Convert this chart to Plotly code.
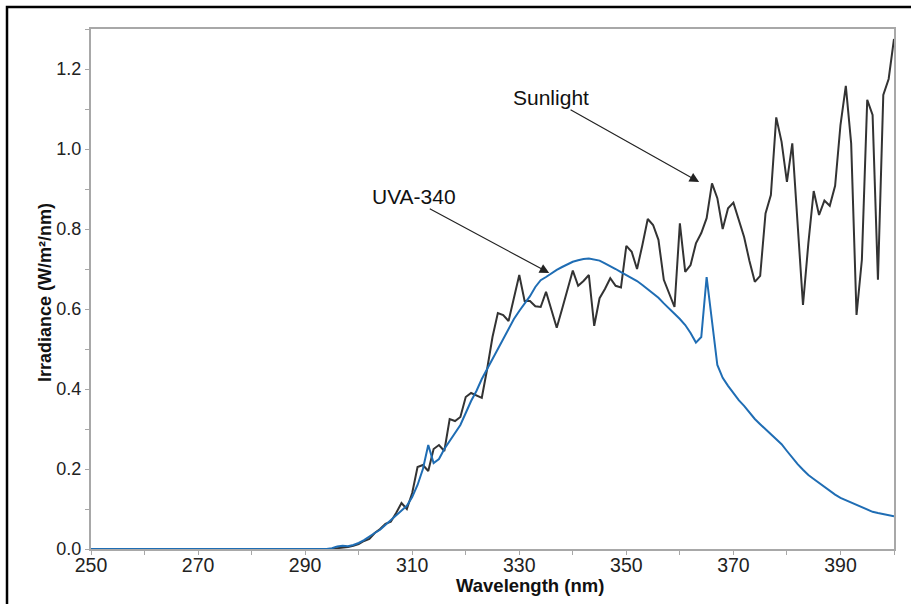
import plotly.graph_objects as go

# ---- data ----
sun_x = [250, 294, 295, 296, 297, 298, 299, 300, 301, 302, 303, 304, 305, 306, 307, 308, 309, 310,
         311, 312, 313, 314, 315, 316, 317, 318, 319, 320, 321, 322, 323, 324, 325, 326, 327, 328,
         329, 330, 331, 332, 333, 334, 335, 336, 337, 338, 339, 340, 341, 342, 343, 344, 345, 346,
         347, 348, 349, 350, 351, 352, 353, 354, 355, 356, 357, 358, 359, 360, 361, 362, 363, 364,
         365, 366, 367, 368, 369, 370, 371, 372, 373, 374, 375, 376, 377, 378, 379, 380, 381, 382,
         383, 384, 385, 386, 387, 388, 389, 390, 391, 392, 393, 394, 395, 396, 397, 398, 399, 400]
sun_y = [0.0, 0.0, 0.0, 0.002, 0.003, 0.005, 0.008, 0.012, 0.02, 0.025, 0.04, 0.05, 0.063, 0.068,
         0.09, 0.115, 0.10, 0.14, 0.205, 0.21, 0.195, 0.25, 0.26, 0.245, 0.325, 0.32, 0.33, 0.38,
         0.39, 0.385, 0.378, 0.45, 0.53, 0.59, 0.585, 0.57, 0.63, 0.685, 0.62, 0.62, 0.607, 0.605,
         0.643, 0.6, 0.553, 0.6, 0.65, 0.696, 0.658, 0.67, 0.685, 0.558, 0.627, 0.65, 0.677, 0.658,
         0.654, 0.758, 0.743, 0.70, 0.76, 0.825, 0.81, 0.773, 0.673, 0.64, 0.605, 0.814, 0.693,
         0.71, 0.764, 0.79, 0.827, 0.914, 0.877, 0.80, 0.852, 0.866, 0.82, 0.78, 0.72, 0.668, 0.683,
         0.839, 0.885, 1.079, 1.018, 0.918, 1.014, 0.81, 0.61, 0.764, 0.895, 0.835, 0.871, 0.858,
         0.908, 1.06, 1.158, 1.014, 0.585, 0.723, 1.123, 1.085, 0.673, 1.135, 1.175, 1.275]

uva_x = [250, 294, 295, 296, 297, 298, 299, 300, 301, 302, 303, 304, 305, 306, 307, 308, 309, 310,
         311, 312, 313, 314, 315, 316, 317, 318, 319, 320, 321, 322, 323, 324, 325, 326, 327, 328,
         329, 330, 331, 332, 333, 334, 335, 336, 337, 338, 339, 340, 341, 342, 343, 344, 345, 346,
         347, 348, 349, 350, 351, 352, 353, 354, 355, 356, 357, 358, 359, 360, 361, 362, 363, 364,
         365, 367, 368, 369, 370, 371, 372, 373, 374, 375, 376, 377, 378, 379, 380, 381, 382,
         383, 384, 385, 386, 387, 388, 389, 390, 391, 392, 393, 394, 395, 396, 397, 398, 399, 400]
uva_y = [0.0, 0.0, 0.002, 0.006, 0.008, 0.007, 0.01, 0.015, 0.022, 0.032, 0.04, 0.048, 0.06, 0.07,
         0.082, 0.095, 0.108, 0.13, 0.16, 0.2, 0.26, 0.215, 0.225, 0.25, 0.27, 0.29, 0.31, 0.34,
         0.37, 0.395, 0.425, 0.45, 0.475, 0.50, 0.525, 0.55, 0.575, 0.595, 0.613, 0.632, 0.655,
         0.672, 0.68, 0.69, 0.698, 0.705, 0.712, 0.718, 0.722, 0.725, 0.726, 0.724, 0.721, 0.714,
         0.708, 0.70, 0.692, 0.685, 0.678, 0.67, 0.66, 0.65, 0.64, 0.628, 0.614, 0.60, 0.588, 0.575,
         0.56, 0.54, 0.516, 0.53, 0.68, 0.46, 0.428, 0.408, 0.39, 0.372, 0.358, 0.342, 0.325, 0.312,
         0.30, 0.288, 0.275, 0.262, 0.245, 0.228, 0.212, 0.198, 0.185, 0.175, 0.165, 0.155, 0.145,
         0.136, 0.128, 0.122, 0.115, 0.11, 0.104, 0.098, 0.093, 0.09, 0.087, 0.084, 0.082]

x_ticks = [250, 270, 290, 310, 330, 350, 370, 390]
y_ticks = [0.0, 0.2, 0.4, 0.6, 0.8, 1.0, 1.2]
y_tick_labels = ["0.0", "0.2", "0.4", "0.6", "0.8", "1.0", "1.2"]

FONT = "Liberation Sans, Arial, sans-serif"
AXIS_GRAY = "#a8a8a8"

fig = go.Figure()
fig.add_trace(go.Scatter(x=sun_x, y=sun_y, mode="lines", name="Sunlight",
                         line=dict(color="#333333", width=2)))
fig.add_trace(go.Scatter(x=uva_x, y=uva_y, mode="lines", name="UVA-340",
                         line=dict(color="#1f6db4", width=2)))

axis_common = dict(showline=True, linecolor=AXIS_GRAY, linewidth=2, mirror=True,
                   showgrid=False, zeroline=False, ticks="outside", ticklen=4,
                   tickcolor=AXIS_GRAY, tickwidth=1)

fig.update_layout(
    width=911, height=604,
    margin=dict(l=91, r=17, t=29, b=55),
    paper_bgcolor="white", plot_bgcolor="white",
    showlegend=False,
    xaxis=dict(range=[250, 400], tickvals=x_ticks, ticktext=[str(v) for v in x_ticks],
               minor=dict(dtick=10, tick0=250, ticks="outside", ticklen=4, tickcolor=AXIS_GRAY),
               tickfont=dict(family=FONT, size=19.5, color="#222222"),
               ticklabelstandoff=-6,
               **axis_common),
    yaxis=dict(range=[0, 1.3], tickvals=y_ticks, ticktext=y_tick_labels,
               minor=dict(dtick=0.1, tick0=0, ticks="outside", ticklen=4, tickcolor=AXIS_GRAY),
               tickfont=dict(family=FONT, size=18, color="#222222"),
               **axis_common),
)

# axis titles
fig.add_annotation(text="<b>Wavelength (nm)</b>", xref="paper", yref="paper",
                   x=0.547, y=-0.07, xanchor="center", yanchor="middle", showarrow=False,
                   font=dict(family=FONT, size=18.5, color="#111111"))
fig.add_annotation(text="<b>Irradiance (W/m²/nm)</b>", xref="paper", yref="paper",
                   x=-0.0573, y=0.494, xanchor="center", yanchor="middle", showarrow=False,
                   textangle=-90, font=dict(family=FONT, size=18, color="#111111"))

# callout labels
fig.add_annotation(text="Sunlight", x=335.9, y=1.13, xref="x", yref="y", showarrow=False,
                   font=dict(family=FONT, size=21, color="#111111"))
fig.add_annotation(text="UVA-340", x=310.3, y=0.8825, xref="x", yref="y", showarrow=False,
                   font=dict(family=FONT, size=21, color="#111111"))
# arrows
fig.add_annotation(text="", x=363.6, y=0.9175, ax=339.3, ay=1.10, xref="x", yref="y",
                   axref="x", ayref="y", showarrow=True, arrowhead=2, arrowsize=1.6,
                   arrowwidth=1.2, arrowcolor="#222222")
fig.add_annotation(text="", x=335.6, y=0.69, ax=313.0, ay=0.8525, xref="x", yref="y",
                   axref="x", ayref="y", showarrow=True, arrowhead=2, arrowsize=1.6,
                   arrowwidth=1.2, arrowcolor="#222222")

# outer frame
fig.add_shape(type="rect", xref="paper", yref="paper",
              x0=-0.1046, y0=-0.12, x1=1.03, y1=1.0423,
              line=dict(color="black", width=2.5), fillcolor="rgba(0,0,0,0)", layer="above")

fig.write_html("out.html", config={"displayModeBar": False},
               post_script="document.body.style.margin='0';")
